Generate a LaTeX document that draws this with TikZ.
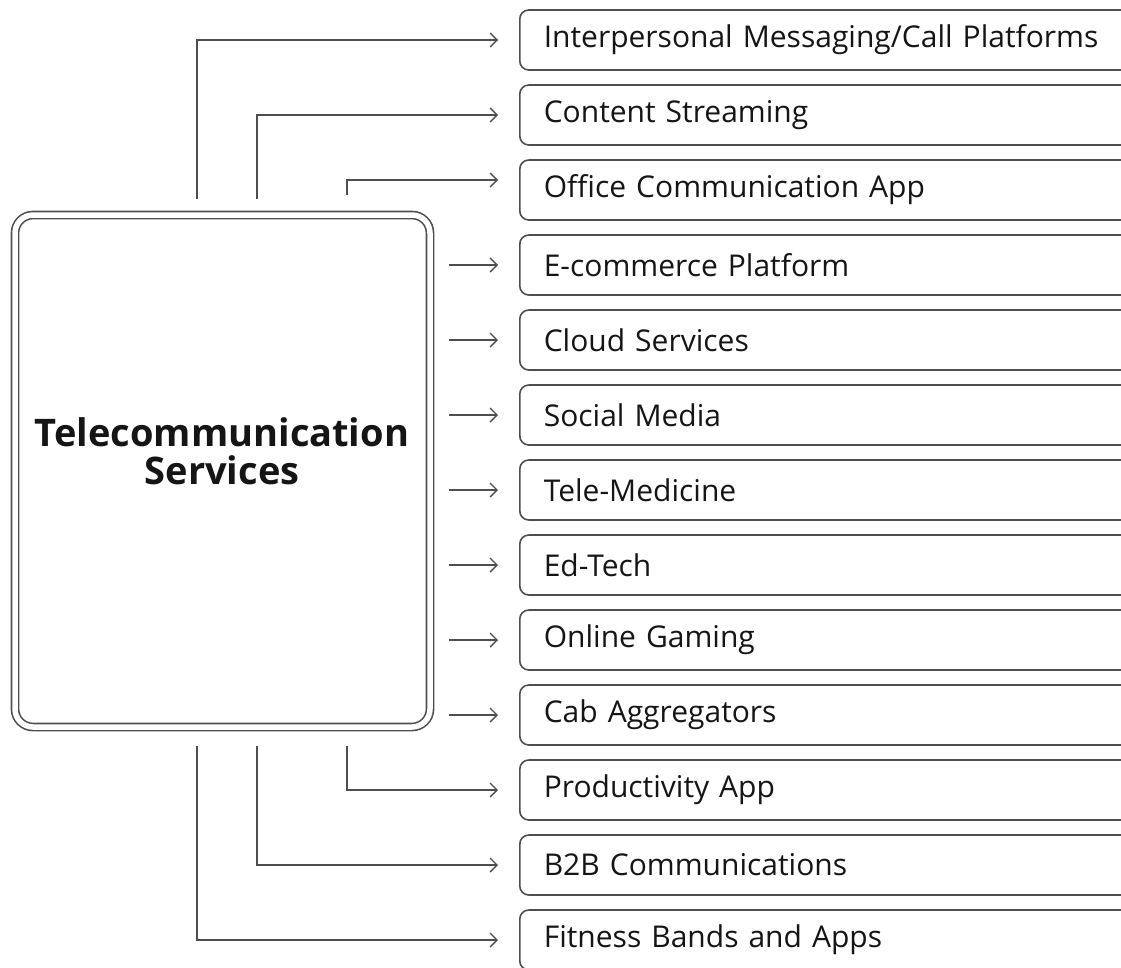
\documentclass[tikz,border=0pt]{standalone}
\usepackage{fontspec}
\setmainfont{Open Sans}
\usetikzlibrary{arrows.meta}
\definecolor{edge}{HTML}{4E4E4E}
\definecolor{ink}{HTML}{151515}
\tikzset{
  hub/.style={draw=edge, line width=1.6pt, double=white, double distance=5.5pt,
    rounded corners=18pt, minimum width=415pt, minimum height=512pt, inner sep=0pt},
  item/.style={draw=edge, line width=1.6pt, rounded corners=9pt, anchor=west,
    minimum width=640pt, minimum height=60pt, inner xsep=24pt, text width=592pt,
    align=left, font=\fontsize{30}{34}\selectfont, text=ink},
  link/.style={draw=edge, line width=1.4pt, -{Straight Barb[length=7pt,width=14pt,line width=1.4pt]}},
  title/.style={font=\fontsize{38}{38}\selectfont\bfseries, text=ink, align=center},
}
\begin{document}
\begin{tikzpicture}[x=1pt,y=-1pt]
\useasboundingbox (0,0) rectangle (1121,967);
\clip (0,0) rectangle (1121,967);
% central block
\node[hub] (hub) at (222.5,471) {};
\node[title] (ttl) at (222,451) {Telecommunication\\Services};
% service boxes
\foreach \n/\y/\t in {
  1/40/{Interpersonal Messaging/Call Platforms},
  2/115/Content Streaming,
  3/190/Office Communication App,
  4/265/E-commerce Platform,
  5/340/Cloud Services,
  6/415/Social Media,
  7/490/Tele-Medicine,
  8/565/Ed-Tech,
  9/640/Online Gaming,
  10/715/Cab Aggregators,
  11/790/Productivity App,
  12/865/B2B Communications,
  13/940/Fitness Bands and Apps}
  \node[item] (s\n) at (519,\y) {\t};
% anchor points on the hub
\coordinate (t1) at (197,199);
\coordinate (t2) at (257,199);
\coordinate (t3) at (347,195);
\coordinate (b1) at (197,746);
\coordinate (b2) at (257,746);
\coordinate (b3) at (347,746);
% connectors from the top edge
\draw[link] (t1) |- ([xshift=-21pt]s1.west);
\draw[link] (t2) |- ([xshift=-21pt]s2.west);
\draw[link] (t3) |- ([xshift=-21pt,yshift=10pt]s3.west);
% connectors from the right edge
\foreach \n in {4,...,10}
  \draw[link] ([xshift=18pt]hub.east |- s\n.west) -- ([xshift=-21pt]s\n.west);
% connectors from the bottom edge
\draw[link] (b3) |- ([xshift=-21pt]s11.west);
\draw[link] (b2) |- ([xshift=-21pt]s12.west);
\draw[link] (b1) |- ([xshift=-21pt]s13.west);
\end{tikzpicture}
\end{document}
